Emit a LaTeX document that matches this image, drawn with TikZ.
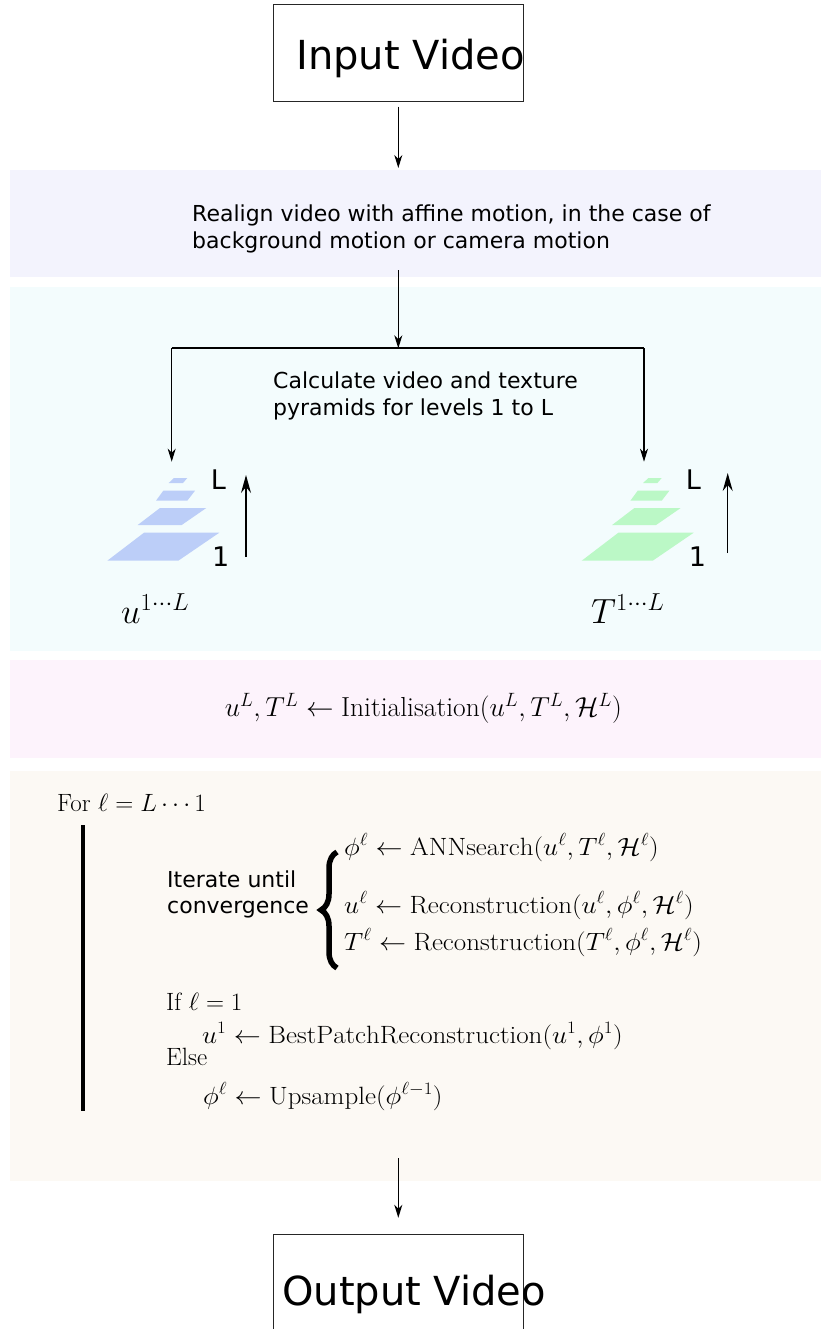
\RequirePackage{fix-cm}
\documentclass[tikz,border=0pt]{standalone}
\usepackage{fontspec}
\setsansfont{DejaVu Sans}
\usetikzlibrary{arrows.meta,decorations.pathreplacing}
\definecolor{bandA}{RGB}{243,243,253}
\definecolor{bandB}{RGB}{243,252,253}
\definecolor{bandC}{RGB}{253,243,252}
\definecolor{bandD}{RGB}{252,249,244}
\definecolor{pyrblue}{RGB}{188,206,248}
\definecolor{pyrgreen}{RGB}{187,248,198}
\newcommand{\widetxt}[1]{\scalebox{1.08}[1]{#1}}
\begin{document}
\begin{tikzpicture}[x=1pt,y=-1pt,
  arr/.style={line width=1.2pt,-{Stealth[length=13pt,width=8pt,inset=4pt]}},
  bigarr/.style={line width=1.4pt,-{Stealth[length=18pt,width=10pt,inset=6pt]}},
  sans/.style={font=\sffamily\fontsize{22}{26}\selectfont, inner sep=0pt, anchor=base west},
  big/.style={font=\sffamily\fontsize{40}{48}\selectfont, inner sep=0pt, anchor=base west},
  lvl/.style={font=\sffamily\fontsize{27}{32}\selectfont, inner sep=0pt, anchor=base west},
  mth/.style={font=\fontsize{25}{30}\selectfont, inner sep=0pt, anchor=base west},
  pyrlab/.style={font=\fontsize{35}{42}\selectfont, inner sep=0pt, anchor=base west},
  boxn/.style={draw=black!85, line width=1pt, minimum width=250pt, inner sep=0pt},
  band/.style={inner sep=0pt, minimum width=811pt, anchor=north west},
]
\useasboundingbox (0,0) rectangle (821,1329);

% background bands
\node[band, fill=bandA, minimum height=107pt] (b1) at (10,170) {};
\node[band, fill=bandB, minimum height=364pt] (b2) at (10,287) {};
\node[band, fill=bandC, minimum height=98pt] (b3) at (10,660) {};
\node[band, fill=bandD, minimum height=410pt] (b4) at (10,771) {};

% input / output
\node[boxn, minimum height=96.5pt] (inbox) at (398.3,52.8) {};
\node[big] (intext) at (296,70) {Input Video};
\node[boxn, minimum height=110pt] (outbox) at (398.3,1289.3) {};
\node[big] (outtext) at (282,1305) {Output Video};

% band texts
\node[sans] (re1) at (192,222) {Realign video with affine motion, in the case of};
\node[sans] (re2) at (192,248.5) {background motion or camera motion};
\node[sans] (ca1) at (273,388.3) {Calculate video and texture};
\node[sans] (ca2) at (273,415) {pyramids for levels 1 to L};

% connectors top
\coordinate (split) at (398.3,348.3);
\coordinate (hl) at (171.7,348.3);
\coordinate (hr) at (644,348.3);
\coordinate (pl) at (171.7,461.7);
\coordinate (pr) at (644,461.7);
\draw[arr] ([yshift=-5pt]inbox.south) -- ([yshift=2pt]inbox.south |- b1.north);
\draw[arr] ([yshift=7pt]split |- b1.south) -- (split);
\draw[line width=1.8pt] (hl) -- (hr);
\draw[arr] (hl) -- (pl);
\draw[arr] (hr) -- (pr);

% pyramids
\fill[pyrblue] (168.7,483) -- (183,483) -- (187.3,478) -- (174,478) -- cycle;
\fill[pyrblue] (156,500.7) -- (187.3,500.7) -- (195,490.7) -- (163.3,490.7) -- cycle;
\fill[pyrblue] (137.7,525) -- (181.7,525) -- (206.3,508) -- (160,508) -- cycle;
\fill[pyrblue] (107.3,560.7) -- (178.3,560.7) -- (219.3,532.7) -- (144,532.7) -- cycle;
\begin{scope}[xshift=474.4pt]
\fill[pyrgreen] (168.7,483) -- (183,483) -- (187.3,478) -- (174,478) -- cycle;
\fill[pyrgreen] (156,500.7) -- (187.3,500.7) -- (195,490.7) -- (163.3,490.7) -- cycle;
\fill[pyrgreen] (137.7,525) -- (181.7,525) -- (206.3,508) -- (160,508) -- cycle;
\fill[pyrgreen] (107.3,560.7) -- (178.3,560.7) -- (219.3,532.7) -- (144,532.7) -- cycle;
\end{scope}
\node[lvl] (lL) at (210.6,489.5) {L};
\node[lvl] (l1) at (212,566) {1};
\node[lvl] (rL) at (685.6,489.5) {L};
\node[lvl] (r1) at (688.7,566) {1};
\coordinate (ua) at (246,557);
\coordinate (ub) at (246,475);
\coordinate (ta) at (727.7,553);
\coordinate (tb) at (727.7,473);
\draw[bigarr] (ua) -- (ub);
\draw[bigarr] (ta) -- (tb);
\node[pyrlab] (ulab) at (121,623) {$u^{1\cdots L}$};
\node[pyrlab] (tlab) at (591,623) {$T^{1\cdots L}$};

% initialisation
\node[font=\fontsize{27.5}{33}\selectfont, inner sep=0pt, anchor=base] (init) at (423.3,716.7)
  {$u^L,T^L \leftarrow \mathrm{Initialisation}(u^L,T^L,\mathcal{H}^L)$};

% loop
\node[mth] (for) at (57,811.7) {For $\ell=L\cdots 1$};
\coordinate (bt) at (83,825);
\coordinate (bb) at (83,1111);
\draw[line width=4.5pt] (bt) -- (bb);

\node[sans] (it1) at (167,887) {Iterate until};
\node[sans] (it2) at (167,913) {convergence};
\coordinate (brb) at (337,968);
\coordinate (brt) at (337,852);
\draw[line width=5.5pt, decorate, decoration={brace, amplitude=16pt}] (brb) -- (brt);

\node[mth] (m1) at (344,855) {\widetxt{$\phi^\ell \leftarrow \mathrm{ANNsearch}(u^\ell,T^\ell,\mathcal{H}^\ell)$}};
\node[mth] (m2) at (344,913) {\widetxt{$u^\ell \leftarrow \mathrm{Reconstruction}(u^\ell,\phi^\ell,\mathcal{H}^\ell)$}};
\node[mth] (m3) at (344,950) {\widetxt{$T^\ell \leftarrow \mathrm{Reconstruction}(T^\ell,\phi^\ell,\mathcal{H}^\ell)$}};

\node[mth] (if) at (166,1010.7) {If $\ell=1$};
\node[mth] (bp) at (202,1043) {\widetxt{$u^1 \leftarrow \mathrm{BestPatchReconstruction}(u^1,\phi^1)$}};
\node[mth] (else) at (166,1065.5) {Else};
\node[mth] (up) at (203,1104) {\widetxt{$\phi^\ell \leftarrow \mathrm{Upsample}(\phi^{\ell-1})$}};

% bottom arrow
\draw[arr] ([yshift=23pt]inbox.south |- b4.south) -- ([yshift=16pt]outbox.north);
\end{tikzpicture}
\end{document}
